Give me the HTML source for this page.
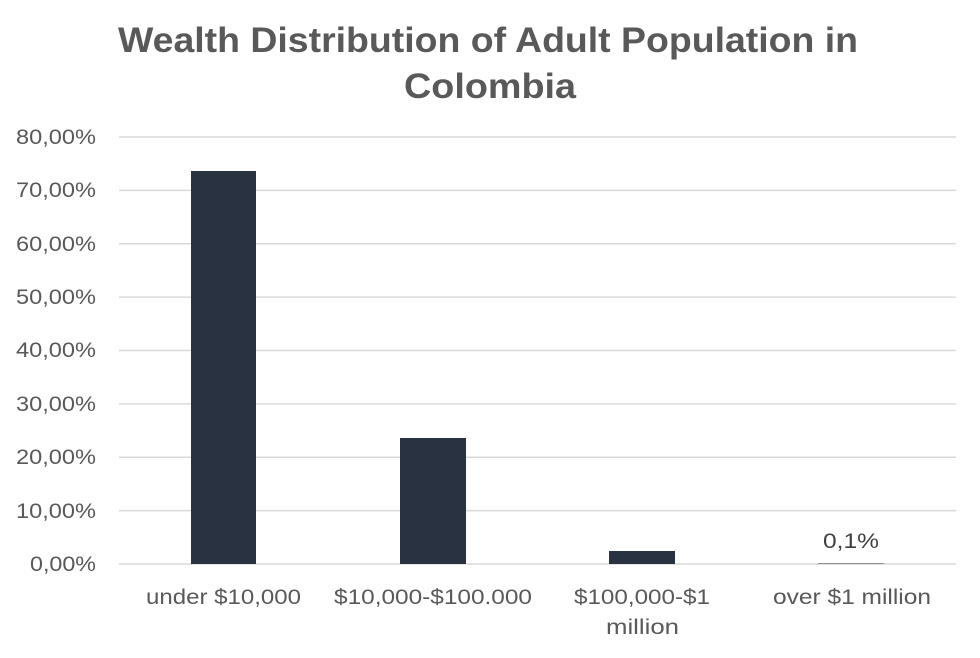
<!DOCTYPE html>
<html><head><meta charset="utf-8"><style>
body{margin:0;background:#fff;}
svg text{font-family:"Liberation Sans",sans-serif;}
</style></head><body>
<svg width="980" height="653" viewBox="0 0 980 653" xmlns="http://www.w3.org/2000/svg">
<rect width="980" height="653" fill="#fff"/>
<text x="118" y="52" textLength="740" lengthAdjust="spacingAndGlyphs" font-size="35" font-weight="bold" fill="#595959">Wealth Distribution of Adult Population in</text>
<text x="404" y="98" textLength="172" lengthAdjust="spacingAndGlyphs" font-size="35" font-weight="bold" fill="#595959">Colombia</text>
<g stroke="#d9d9d9" stroke-width="1.5">
<line x1="119" y1="137" x2="956" y2="137"/>
<line x1="119" y1="190.4" x2="956" y2="190.4"/>
<line x1="119" y1="243.8" x2="956" y2="243.8"/>
<line x1="119" y1="297.1" x2="956" y2="297.1"/>
<line x1="119" y1="350.5" x2="956" y2="350.5"/>
<line x1="119" y1="403.9" x2="956" y2="403.9"/>
<line x1="119" y1="457.3" x2="956" y2="457.3"/>
<line x1="119" y1="510.6" x2="956" y2="510.6"/>
<line x1="119" y1="564" x2="956" y2="564"/>
</g>
<g font-size="21" fill="#595959">
<text x="16" y="144" textLength="80" lengthAdjust="spacingAndGlyphs">80,00%</text>
<text x="16" y="197" textLength="80" lengthAdjust="spacingAndGlyphs">70,00%</text>
<text x="16" y="251" textLength="80" lengthAdjust="spacingAndGlyphs">60,00%</text>
<text x="16" y="304" textLength="80" lengthAdjust="spacingAndGlyphs">50,00%</text>
<text x="16" y="357" textLength="80" lengthAdjust="spacingAndGlyphs">40,00%</text>
<text x="16" y="411" textLength="80" lengthAdjust="spacingAndGlyphs">30,00%</text>
<text x="16" y="464" textLength="80" lengthAdjust="spacingAndGlyphs">20,00%</text>
<text x="16" y="518" textLength="80" lengthAdjust="spacingAndGlyphs">10,00%</text>
<text x="30" y="571" textLength="66" lengthAdjust="spacingAndGlyphs">0,00%</text>
</g>
<g fill="#293241">
<rect x="191" y="171" width="65" height="393"/>
<rect x="400" y="438" width="66" height="126"/>
<rect x="609" y="551" width="66" height="13"/>
<rect x="818" y="563.5" width="66" height="0.5"/>
</g>
<text x="823" y="548" textLength="56" lengthAdjust="spacingAndGlyphs" font-size="21" fill="#404040">0,1%</text>
<g font-size="21" fill="#595959">
<text x="146" y="604" textLength="155" lengthAdjust="spacingAndGlyphs">under $10,000</text>
<text x="334" y="604" textLength="198" lengthAdjust="spacingAndGlyphs">$10,000-$100.000</text>
<text x="574" y="604" textLength="136" lengthAdjust="spacingAndGlyphs">$100,000-$1</text>
<text x="606" y="634" textLength="73" lengthAdjust="spacingAndGlyphs">million</text>
<text x="773" y="604" textLength="158" lengthAdjust="spacingAndGlyphs">over $1 million</text>
</g>
</svg>
</body></html>
